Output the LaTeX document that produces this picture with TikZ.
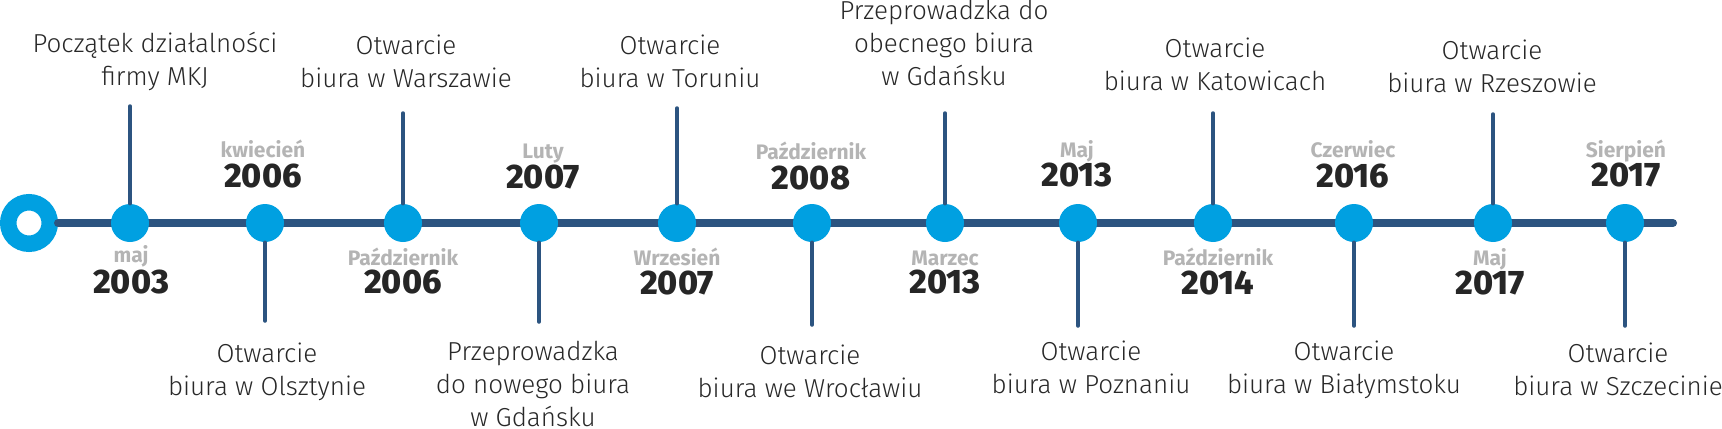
\documentclass[tikz,border=0pt]{standalone}
\usepackage{fontspec}
\setmainfont{Fira Sans}[UprightFont={* Light}, BoldFont={* Bold}]
\newfontfamily\yearfamily{Fira Sans}[UprightFont={* ExtraBold}]
\usepackage{tikz}
\usetikzlibrary{positioning, calc}

\definecolor{axisBlue}{RGB}{44,84,128}
\definecolor{dotBlue}{RGB}{0,160,225}
\definecolor{monthGray}{RGB}{180,180,180}
\definecolor{yearDark}{RGB}{38,38,38}
\definecolor{descDark}{RGB}{40,40,40}

\begin{document}
\begin{tikzpicture}[
    x=0.5pt, y=-0.5pt,
    axis/.style={line width=4pt, axisBlue, line cap=round},
    stem/.style={line width=1.75pt, axisBlue, line cap=round},
    dot/.style={circle, fill=dotBlue, minimum size=19pt, inner sep=0pt},
    ring/.style={circle, draw=dotBlue, line width=8.25pt, fill=white, minimum size=20.75pt, inner sep=0pt},
    desc/.style={font=\fontsize{13}{16.3}\selectfont, text=descDark, align=center, anchor=base, inner sep=0pt},
    month/.style={font=\fontsize{10.5}{12}\selectfont\bfseries, text=monthGray, anchor=base, inner sep=0pt},
    year/.style={font=\fontsize{17}{20}\selectfont\yearfamily, text=yearDark, anchor=base, inner sep=0pt}
]
\useasboundingbox (0,0) rectangle (1722,428);

% ============== Os czasu ==============
\node[ring] (start) at (29,223) {};
\coordinate (end) at (1673,223);
\draw[axis] (start) -- (end);

% ============== Punkty ==============
\node[dot] (d1) at (130,223) {};
\node[dot] (d2) at (265,223) {};
\node[dot] (d3) at (403,223) {};
\node[dot] (d4) at (539,223) {};
\node[dot] (d5) at (677,223) {};
\node[dot] (d6) at (812,223) {};
\node[dot] (d7) at (945,223) {};
\node[dot] (d8) at (1078,223) {};
\node[dot] (d9) at (1213,223) {};
\node[dot] (d10) at (1354,223) {};
\node[dot] (d11) at (1493,223) {};
\node[dot] (d12) at (1625,223) {};

% ============== Linie pionowe ==============
\coordinate (t1) at (130,106);
\coordinate (b2) at (265,321);
\coordinate (t3) at (403,113);
\coordinate (b4) at (539,322);
\coordinate (t5) at (677,108);
\coordinate (b6) at (812,325);
\coordinate (t7) at (945,113);
\coordinate (b8) at (1078,326);
\coordinate (t9) at (1213,113);
\coordinate (b10) at (1354,326);
\coordinate (t11) at (1493,114);
\coordinate (b12) at (1625,326);
\draw[stem] (t1) -- (d1);
\draw[stem] (b2) -- (d2);
\draw[stem] (t3) -- (d3);
\draw[stem] (b4) -- (d4);
\draw[stem] (t5) -- (d5);
\draw[stem] (b6) -- (d6);
\draw[stem] (t7) -- (d7);
\draw[stem] (b8) -- (d8);
\draw[stem] (t9) -- (d9);
\draw[stem] (b10) -- (d10);
\draw[stem] (t11) -- (d11);
\draw[stem] (b12) -- (d12);

% ============== Daty ==============
\node[month] (m1) at (131,262) {maj};
\node[year] (y1) at (131,293) {2003};
\node[month] (m2) at (263,157) {kwiecień};
\node[year] (y2) at (263,187) {2006};
\node[month] (m3) at (403,265) {Październik};
\node[year] (y3) at (403,293) {2006};
\node[month] (m4) at (543,158) {Luty};
\node[year] (y4) at (543,188) {2007};
\node[month] (m5) at (677,265) {Wrzesień};
\node[year] (y5) at (677,294) {2007};
\node[month] (m6) at (811,159) {Październik};
\node[year] (y6) at (811,189) {2008};
\node[month] (m7) at (945,265) {Marzec};
\node[year] (y7) at (945,293) {2013};
\node[month] (m8) at (1077,157) {Maj};
\node[year] (y8) at (1077,186) {2013};
\node[month] (m9) at (1218,265) {Październik};
\node[year] (y9) at (1218,294) {2014};
\node[month] (m10) at (1353,157) {Czerwiec};
\node[year] (y10) at (1353,187) {2016};
\node[month] (m11) at (1490,265) {Maj};
\node[year] (y11) at (1490,294) {2017};
\node[month] (m12) at (1626,157) {Sierpień};
\node[year] (y12) at (1626,186) {2017};

% ============== Opisy ==============
\node[desc] (e1) at (155,85) {Początek działalności\\firmy MKJ};
\node[desc] (e2) at (267,395) {Otwarcie\\biura w Olsztynie};
\node[desc] (e3) at (406,87) {Otwarcie\\biura w Warszawie};
\node[desc] (e4) at (533,426) {Przeprowadzka\\do nowego biura\\w Gdańsku};
\node[desc] (e5) at (670,87) {Otwarcie\\biura w Toruniu};
\node[desc] (e6) at (810,397) {Otwarcie\\biura we Wrocławiu};
\node[desc] (e7) at (944,85) {Przeprowadzka do\\obecnego biura\\w Gdańsku};
\node[desc] (e8) at (1091,393) {Otwarcie\\biura w Poznaniu};
\node[desc] (e9) at (1215,90) {Otwarcie\\biura w Katowicach};
\node[desc] (e10) at (1344,393) {Otwarcie\\biura w Białymstoku};
\node[desc] (e11) at (1492,92) {Otwarcie\\biura w Rzeszowie};
\node[desc] (e12) at (1618,395) {Otwarcie\\biura w Szczecinie};
\end{tikzpicture}
\end{document}
